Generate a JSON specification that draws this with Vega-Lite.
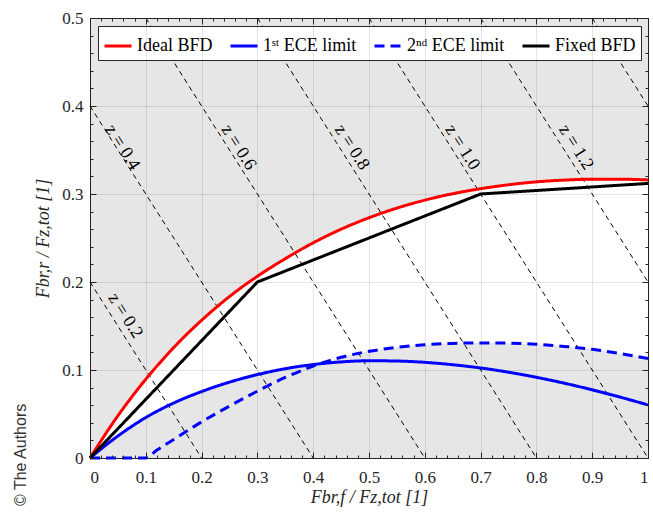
{
  "$schema": "https://vega.github.io/schema/vega-lite/v6.json",
  "width": 558,
  "height": 440,
  "autosize": "none",
  "padding": {"left": 90, "top": 18, "right": 5, "bottom": 65},
  "background": "white",
  "config": {
    "view": {"fill": "#e6e6e6", "stroke": "#262626", "strokeWidth": 1},
    "font": "Liberation Serif",
    "legend": {
      "orient": "none", "legendX": 8, "legendY": 8, "direction": "horizontal", "columns": 4,
      "fillColor": "white", "strokeColor": "#262626", "padding": 5,
      "symbolType": "stroke", "symbolSize": 729, "symbolStrokeWidth": 3,
      "labelFont": "Liberation Serif", "labelFontSize": 18, "labelColor": "#000",
      "columnPadding": 11, "labelOffset": 4, "title": null
    }
  },
  "title": {"text": "© The Authors", "orient": "left", "anchor": "start", "frame": "bounds", "font": "Liberation Sans", "fontSize": 16, "fontWeight": "normal", "color": "#333333", "offset": 6},
  "datasets": {
    "band": [
      {"x": 0, "lo": 0, "hi": 0},
      {"x": 0.05, "lo": 0.025, "hi": 0.048},
      {"x": 0.1, "lo": 0.046, "hi": 0.0895},
      {"x": 0.15, "lo": 0.0625, "hi": 0.1255},
      {"x": 0.2, "lo": 0.0755, "hi": 0.1565},
      {"x": 0.25, "lo": 0.0862, "hi": 0.1835},
      {"x": 0.3, "lo": 0.0948, "hi": 0.2065},
      {"x": 0.35, "lo": 0.1015, "hi": 0.2265},
      {"x": 0.4, "lo": 0.1062, "hi": 0.2445},
      {"x": 0.415, "lo": 0.1072, "hi": 0.2492},
      {"x": 0.45, "lo": 0.1145, "hi": 0.26},
      {"x": 0.5, "lo": 0.1212, "hi": 0.273},
      {"x": 0.55, "lo": 0.1257, "hi": 0.284},
      {"x": 0.6, "lo": 0.1287, "hi": 0.293},
      {"x": 0.65, "lo": 0.1302, "hi": 0.3003},
      {"x": 0.7, "lo": 0.1308, "hi": 0.306},
      {"x": 0.75, "lo": 0.1305, "hi": 0.3105},
      {"x": 0.8, "lo": 0.1292, "hi": 0.3138},
      {"x": 0.85, "lo": 0.1268, "hi": 0.3158},
      {"x": 0.9, "lo": 0.1235, "hi": 0.3168},
      {"x": 0.95, "lo": 0.1187, "hi": 0.3168},
      {"x": 1.0, "lo": 0.113, "hi": 0.316}
    ],
    "zlines": [
      {"z": 0.2, "x": 0, "y": 0.2}, {"z": 0.2, "x": 0.2, "y": 0},
      {"z": 0.4, "x": 0, "y": 0.4}, {"z": 0.4, "x": 0.4, "y": 0},
      {"z": 0.6, "x": 0.1, "y": 0.5}, {"z": 0.6, "x": 0.6, "y": 0},
      {"z": 0.8, "x": 0.3, "y": 0.5}, {"z": 0.8, "x": 0.8, "y": 0},
      {"z": 1.0, "x": 0.5, "y": 0.5}, {"z": 1.0, "x": 1.0, "y": 0},
      {"z": 1.2, "x": 0.7, "y": 0.5}, {"z": 1.2, "x": 1.0, "y": 0.2},
      {"z": 1.4, "x": 0.9, "y": 0.5}, {"z": 1.4, "x": 1.0, "y": 0.4}
    ],
    "zlabels": [
      {"label": "z = 0.2", "x": 0.063, "y": 0.1616},
      {"label": "z = 0.4", "x": 0.058, "y": 0.353},
      {"label": "z = 0.6", "x": 0.266, "y": 0.353},
      {"label": "z = 0.8", "x": 0.469, "y": 0.353},
      {"label": "z = 1.0", "x": 0.667, "y": 0.353},
      {"label": "z = 1.2", "x": 0.871, "y": 0.353}
    ],
    "curves": [
      {"series": "Ideal BFD", "x": 0, "y": 0},
      {"series": "Ideal BFD", "x": 0.05, "y": 0.048},
      {"series": "Ideal BFD", "x": 0.1, "y": 0.0895},
      {"series": "Ideal BFD", "x": 0.15, "y": 0.1255},
      {"series": "Ideal BFD", "x": 0.2, "y": 0.1565},
      {"series": "Ideal BFD", "x": 0.25, "y": 0.1835},
      {"series": "Ideal BFD", "x": 0.3, "y": 0.2065},
      {"series": "Ideal BFD", "x": 0.35, "y": 0.2265},
      {"series": "Ideal BFD", "x": 0.4, "y": 0.2445},
      {"series": "Ideal BFD", "x": 0.45, "y": 0.26},
      {"series": "Ideal BFD", "x": 0.5, "y": 0.273},
      {"series": "Ideal BFD", "x": 0.55, "y": 0.284},
      {"series": "Ideal BFD", "x": 0.6, "y": 0.293},
      {"series": "Ideal BFD", "x": 0.65, "y": 0.3003},
      {"series": "Ideal BFD", "x": 0.7, "y": 0.306},
      {"series": "Ideal BFD", "x": 0.75, "y": 0.3105},
      {"series": "Ideal BFD", "x": 0.8, "y": 0.3138},
      {"series": "Ideal BFD", "x": 0.85, "y": 0.3158},
      {"series": "Ideal BFD", "x": 0.9, "y": 0.3168},
      {"series": "Ideal BFD", "x": 0.95, "y": 0.3168},
      {"series": "Ideal BFD", "x": 1.0, "y": 0.316},
      {"series": "1ˢᵗ ECE limit", "x": 0, "y": 0},
      {"series": "1ˢᵗ ECE limit", "x": 0.05, "y": 0.025},
      {"series": "1ˢᵗ ECE limit", "x": 0.1, "y": 0.046},
      {"series": "1ˢᵗ ECE limit", "x": 0.15, "y": 0.0625},
      {"series": "1ˢᵗ ECE limit", "x": 0.2, "y": 0.0755},
      {"series": "1ˢᵗ ECE limit", "x": 0.25, "y": 0.0862},
      {"series": "1ˢᵗ ECE limit", "x": 0.3, "y": 0.0948},
      {"series": "1ˢᵗ ECE limit", "x": 0.35, "y": 0.1015},
      {"series": "1ˢᵗ ECE limit", "x": 0.4, "y": 0.1062},
      {"series": "1ˢᵗ ECE limit", "x": 0.45, "y": 0.1092},
      {"series": "1ˢᵗ ECE limit", "x": 0.5, "y": 0.1105},
      {"series": "1ˢᵗ ECE limit", "x": 0.55, "y": 0.1102},
      {"series": "1ˢᵗ ECE limit", "x": 0.6, "y": 0.1087},
      {"series": "1ˢᵗ ECE limit", "x": 0.65, "y": 0.106},
      {"series": "1ˢᵗ ECE limit", "x": 0.7, "y": 0.1023},
      {"series": "1ˢᵗ ECE limit", "x": 0.75, "y": 0.0975},
      {"series": "1ˢᵗ ECE limit", "x": 0.8, "y": 0.0917},
      {"series": "1ˢᵗ ECE limit", "x": 0.85, "y": 0.085},
      {"series": "1ˢᵗ ECE limit", "x": 0.9, "y": 0.0775},
      {"series": "1ˢᵗ ECE limit", "x": 0.95, "y": 0.0692},
      {"series": "1ˢᵗ ECE limit", "x": 1.0, "y": 0.0603},
      {"series": "2ⁿᵈ ECE limit", "x": 0, "y": 0},
      {"series": "2ⁿᵈ ECE limit", "x": 0.05, "y": 0},
      {"series": "2ⁿᵈ ECE limit", "x": 0.1, "y": 0},
      {"series": "2ⁿᵈ ECE limit", "x": 0.12, "y": 0.009},
      {"series": "2ⁿᵈ ECE limit", "x": 0.15, "y": 0.021},
      {"series": "2ⁿᵈ ECE limit", "x": 0.2, "y": 0.041},
      {"series": "2ⁿᵈ ECE limit", "x": 0.25, "y": 0.059},
      {"series": "2ⁿᵈ ECE limit", "x": 0.3, "y": 0.076},
      {"series": "2ⁿᵈ ECE limit", "x": 0.35, "y": 0.0915},
      {"series": "2ⁿᵈ ECE limit", "x": 0.4, "y": 0.1045},
      {"series": "2ⁿᵈ ECE limit", "x": 0.45, "y": 0.1145},
      {"series": "2ⁿᵈ ECE limit", "x": 0.5, "y": 0.1212},
      {"series": "2ⁿᵈ ECE limit", "x": 0.55, "y": 0.1257},
      {"series": "2ⁿᵈ ECE limit", "x": 0.6, "y": 0.1287},
      {"series": "2ⁿᵈ ECE limit", "x": 0.65, "y": 0.1302},
      {"series": "2ⁿᵈ ECE limit", "x": 0.7, "y": 0.1308},
      {"series": "2ⁿᵈ ECE limit", "x": 0.75, "y": 0.1305},
      {"series": "2ⁿᵈ ECE limit", "x": 0.8, "y": 0.1292},
      {"series": "2ⁿᵈ ECE limit", "x": 0.85, "y": 0.1268},
      {"series": "2ⁿᵈ ECE limit", "x": 0.9, "y": 0.1235},
      {"series": "2ⁿᵈ ECE limit", "x": 0.95, "y": 0.1187},
      {"series": "2ⁿᵈ ECE limit", "x": 1.0, "y": 0.113}
    ],
    "fixed": [
      {"series": "Fixed BFD", "x": 0, "y": 0},
      {"series": "Fixed BFD", "x": 0.3, "y": 0.2},
      {"series": "Fixed BFD", "x": 0.7, "y": 0.3},
      {"series": "Fixed BFD", "x": 1.0, "y": 0.312}
    ]
  },
  "layer": [
    {
      "data": {"name": "band"},
      "mark": {"type": "area", "color": "white", "opacity": 1, "interpolate": "monotone"},
      "encoding": {
        "x": {"field": "x", "type": "quantitative", "scale": {"domain": [0, 1], "nice": false, "zero": false},
          "axis": {"orient": "bottom", "values": [0, 0.1, 0.2, 0.3, 0.4, 0.5, 0.6, 0.7, 0.8, 0.9, 1], "format": "~g",
            "labelFont": "Liberation Serif", "labelFontSize": 17, "labelColor": "#262626", "labelPadding": 17,
            "ticks": true, "tickSize": -6, "tickColor": "#262626",
            "grid": true, "gridColor": "#000000", "gridOpacity": 0.1, "domain": false, "zindex": 1,
            "title": "Fbr,f / Fz,tot  [1]", "titleFont": "Liberation Serif", "titleFontSize": 18, "titleFontWeight": "normal", "titleFontStyle": "italic", "titleColor": "#262626", "titlePadding": 3}},
        "y": {"field": "hi", "type": "quantitative", "scale": {"domain": [0, 0.5], "nice": false, "zero": false},
          "axis": {"orient": "left", "values": [0, 0.1, 0.2, 0.3, 0.4, 0.5], "format": "~g",
            "labelFont": "Liberation Serif", "labelFontSize": 17, "labelColor": "#262626", "labelPadding": 13,
            "ticks": true, "tickSize": -6, "tickColor": "#262626",
            "grid": true, "gridColor": "#000000", "gridOpacity": 0.1, "domain": false, "zindex": 1,
            "title": "Fbr,r / Fz,tot  [1]", "titleFont": "Liberation Serif", "titleFontSize": 18, "titleFontWeight": "normal", "titleFontStyle": "italic", "titleColor": "#262626", "titlePadding": 9}},
        "y2": {"field": "lo"}
      }
    },
    {
      "data": {"name": "zlines"},
      "mark": {"type": "line", "color": "black", "strokeWidth": 1, "strokeDash": [5, 4]},
      "encoding": {
        "x": {"field": "x", "type": "quantitative",
          "axis": {"orient": "top", "values": [0, 0.1, 0.2, 0.3, 0.4, 0.5, 0.6, 0.7, 0.8, 0.9, 1], "labels": false, "tickSize": -6, "tickColor": "#262626", "grid": false, "domain": false, "title": null, "zindex": 1}},
        "y": {"field": "y", "type": "quantitative",
          "axis": {"orient": "right", "values": [0, 0.1, 0.2, 0.3, 0.4, 0.5], "labels": false, "tickSize": -6, "tickColor": "#262626", "grid": false, "domain": false, "title": null, "zindex": 1}},
        "detail": {"field": "z", "type": "nominal"}
      }
    },
    {
      "data": {"name": "curves"},
      "mark": {"type": "line", "strokeWidth": 3, "interpolate": "monotone"},
      "encoding": {
        "x": {"field": "x", "type": "quantitative",
          "axis": {"orient": "bottom", "values": [0,0.02,0.04,0.06,0.08,0.1,0.12,0.14,0.16,0.18,0.2,0.22,0.24,0.26,0.28,0.3,0.32,0.34,0.36,0.38,0.4,0.42,0.44,0.46,0.48,0.5,0.52,0.54,0.56,0.58,0.6,0.62,0.64,0.66,0.68,0.7,0.72,0.74,0.76,0.78,0.8,0.82,0.84,0.86,0.88,0.9,0.92,0.94,0.96,0.98,1], "labels": false, "tickSize": -3, "tickColor": "#262626", "grid": false, "domain": false, "title": null, "zindex": 1}},
        "y": {"field": "y", "type": "quantitative",
          "axis": {"orient": "left", "values": [0,0.02,0.04,0.06,0.08,0.1,0.12,0.14,0.16,0.18,0.2,0.22,0.24,0.26,0.28,0.3,0.32,0.34,0.36,0.38,0.4,0.42,0.44,0.46,0.48,0.5], "labels": false, "tickSize": -3, "tickColor": "#262626", "grid": false, "domain": false, "title": null, "zindex": 1}},
        "color": {"field": "series", "type": "nominal",
          "scale": {"domain": ["Ideal BFD", "1ˢᵗ ECE limit", "2ⁿᵈ ECE limit", "Fixed BFD"], "range": ["#ff0000", "#0000ff", "#0000ff", "#000000"]}},
        "strokeDash": {"field": "series", "type": "nominal",
          "scale": {"domain": ["Ideal BFD", "1ˢᵗ ECE limit", "2ⁿᵈ ECE limit", "Fixed BFD"], "range": [[1, 0], [1, 0], [10, 6], [1, 0]]}}
      }
    },
    {
      "data": {"name": "fixed"},
      "mark": {"type": "line", "strokeWidth": 3},
      "encoding": {
        "x": {"field": "x", "type": "quantitative", "axis": null},
        "y": {"field": "y", "type": "quantitative", "axis": null},
        "color": {"field": "series", "type": "nominal"},
        "strokeDash": {"field": "series", "type": "nominal"}
      }
    },
    {
      "data": {"name": "zlabels"},
      "mark": {"type": "text", "angle": 57.6, "font": "Liberation Serif", "fontSize": 18, "align": "center", "baseline": "middle", "color": "black"},
      "encoding": {
        "x": {"field": "x", "type": "quantitative",
          "axis": {"orient": "top", "values": [0,0.02,0.04,0.06,0.08,0.1,0.12,0.14,0.16,0.18,0.2,0.22,0.24,0.26,0.28,0.3,0.32,0.34,0.36,0.38,0.4,0.42,0.44,0.46,0.48,0.5,0.52,0.54,0.56,0.58,0.6,0.62,0.64,0.66,0.68,0.7,0.72,0.74,0.76,0.78,0.8,0.82,0.84,0.86,0.88,0.9,0.92,0.94,0.96,0.98,1], "labels": false, "tickSize": -3, "tickColor": "#262626", "grid": false, "domain": false, "title": null, "zindex": 1}},
        "y": {"field": "y", "type": "quantitative",
          "axis": {"orient": "right", "values": [0,0.02,0.04,0.06,0.08,0.1,0.12,0.14,0.16,0.18,0.2,0.22,0.24,0.26,0.28,0.3,0.32,0.34,0.36,0.38,0.4,0.42,0.44,0.46,0.48,0.5], "labels": false, "tickSize": -3, "tickColor": "#262626", "grid": false, "domain": false, "title": null, "zindex": 1}},
        "text": {"field": "label"}
      }
    }
  ],
  "resolve": {"axis": {"x": "independent", "y": "independent"}}
}
